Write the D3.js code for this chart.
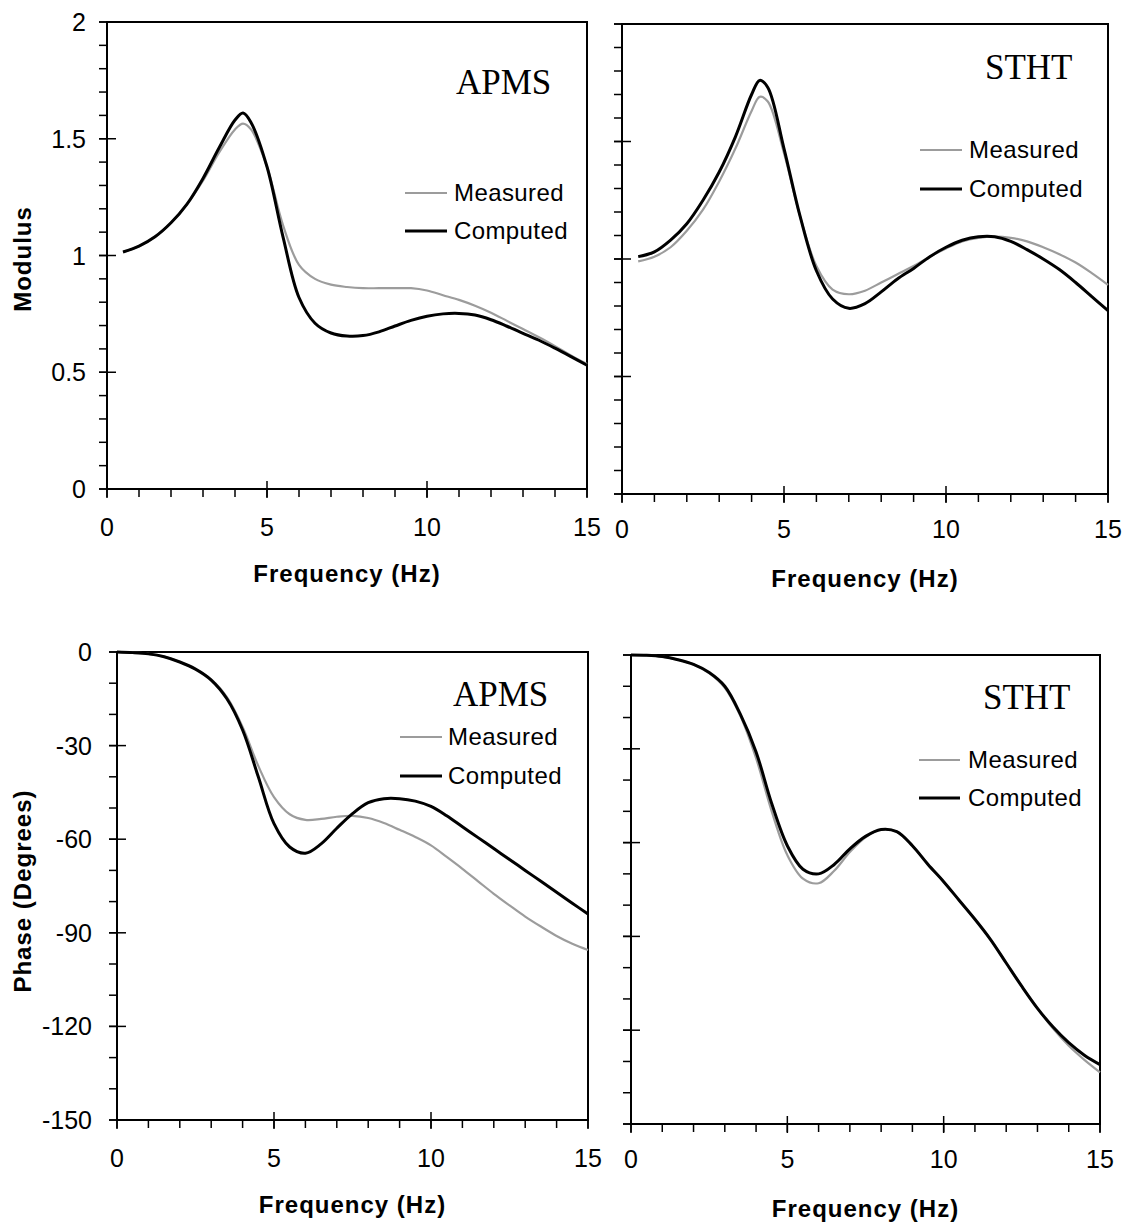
<!DOCTYPE html>
<html>
<head>
<meta charset="utf-8">
<script src="https://cdn.jsdelivr.net/npm/d3@7/dist/d3.min.js"></script>
<style>
  html, body { margin: 0; padding: 0; background: #fff; }
  svg { display: block; }
</style>
</head>
<body>
<svg id="chart" width="1130" height="1226"></svg>
<script>
// ---- Modulus data (frequency in Hz) ----
const modFreq = [0.5, 1, 1.5, 2, 2.5, 3, 3.5, 4, 4.25, 4.5, 5, 5.5, 6, 6.5, 7, 7.5, 8, 8.5, 9, 9.5, 10, 10.5, 11, 11.5, 12, 12.5, 13, 13.5, 14, 14.5, 15];

const apmsModMeasured = [1.015, 1.04, 1.08, 1.14, 1.22, 1.32, 1.44, 1.54, 1.565, 1.54, 1.38, 1.13, 0.96, 0.9, 0.875, 0.865, 0.86, 0.86, 0.86, 0.86, 0.85, 0.83, 0.81, 0.785, 0.755, 0.72, 0.685, 0.65, 0.612, 0.572, 0.535];
const apmsModComputed = [1.015, 1.04, 1.08, 1.14, 1.22, 1.33, 1.46, 1.58, 1.61, 1.57, 1.38, 1.08, 0.82, 0.71, 0.668, 0.655, 0.657, 0.673, 0.698, 0.722, 0.74, 0.75, 0.752, 0.745, 0.725, 0.697, 0.667, 0.637, 0.603, 0.567, 0.53];

const sthtModMeasured = [0.99, 1.01, 1.05, 1.12, 1.21, 1.33, 1.47, 1.63, 1.69, 1.67, 1.45, 1.18, 0.97, 0.87, 0.85, 0.865, 0.9, 0.935, 0.97, 1.01, 1.045, 1.075, 1.09, 1.095, 1.09, 1.075, 1.05, 1.02, 0.985, 0.94, 0.89];
const sthtModComputed = [1.01, 1.03, 1.08, 1.15, 1.25, 1.37, 1.52, 1.7, 1.76, 1.73, 1.47, 1.18, 0.95, 0.83, 0.79, 0.81, 0.86, 0.915, 0.96, 1.01, 1.05, 1.08, 1.095, 1.095, 1.075, 1.04, 1.0, 0.955, 0.9, 0.84, 0.78];

// ---- Phase data (degrees) ----
const phaseFreq = [0, 0.5, 1, 1.5, 2, 2.5, 3, 3.5, 4, 4.5, 5, 5.5, 6, 6.5, 7, 7.5, 8, 8.5, 9, 9.5, 10, 10.5, 11, 11.5, 12, 12.5, 13, 13.5, 14, 14.5, 15];

const apmsPhaseMeasured = [0, -0.2, -0.6, -1.5, -3.2, -5.5, -8.8, -14.5, -24, -36.5, -46.5, -52, -53.8, -53.5, -52.8, -52.5, -53.2, -54.8, -57, -59.3, -62, -65.7, -69.5, -73.5, -77.5, -81.2, -84.8, -88, -91, -93.5, -95.5];
const apmsPhaseComputed = [0, -0.2, -0.6, -1.5, -3.2, -5.5, -9, -15, -25, -40, -55, -62.5, -64.5, -61.5, -56.5, -51.8, -48.3, -47, -47, -47.8, -49.5, -52.5, -56, -59.5, -63, -66.5, -70, -73.5, -77, -80.5, -84];

const sthtPhaseMeasured = [0, -0.1, -0.5, -1.5, -3, -5.8, -10.5, -19.5, -33, -50, -64, -71.5, -73, -69, -63, -58.3, -55.8, -56.5, -61, -67, -72.5, -78.5, -84.5, -91, -98.5, -106, -113, -119.5, -125, -129.5, -133.5];
const sthtPhaseComputed = [0, -0.1, -0.5, -1.5, -3, -5.6, -10, -19, -31, -47.5, -61, -68.5, -70, -67, -62, -58, -55.8, -56.5, -61, -67, -72.5, -78.5, -84.5, -91, -98.5, -106, -113, -119, -124, -128, -131];

// ---- Axis ticks ----
const freqMajor = [0, 5, 10, 15];
const freqMinor = d3.range(0, 16, 1);
const modMajor = [0, 0.5, 1, 1.5, 2];
const modMinor = d3.range(0, 2.0001, 0.1);
const phaseMajor = [0, -30, -60, -90, -120, -150];
const phaseMinor = d3.range(-150, 0.0001, 10);

const seriesNames = ["Measured", "Computed"];

const svg = d3.select("#chart");

const panels = [
  { box: [107, 587, 22, 489], yDom: [0, 2], major: modMajor, minor: modMinor, ylabels: true, ytitle: "Modulus",
    ytitleY: 259, xFreq: modFreq, meas: apmsModMeasured, comp: apmsModComputed, name: "APMS",
    nameXY: [456, 94], leg: { x1: 405, x2: 447, tx: 454, y: [193, 231] }, labelRight: 86, xtitleY: 582, xlabY: 536 },
  { box: [622, 1108, 24, 494], yDom: [0, 2], major: modMajor, minor: modMinor, ylabels: false,
    xFreq: modFreq, meas: sthtModMeasured, comp: sthtModComputed, name: "STHT",
    nameXY: [985, 79], leg: { x1: 920, x2: 962, tx: 969, y: [150, 189] }, xtitleY: 587, xlabY: 538 },
  { box: [117, 588, 652, 1120], yDom: [-150, 0], major: phaseMajor, minor: phaseMinor, ylabels: true, ytitle: "Phase (Degrees)",
    ytitleY: 891, xFreq: phaseFreq, meas: apmsPhaseMeasured, comp: apmsPhaseComputed, name: "APMS",
    nameXY: [453, 706], leg: { x1: 400, x2: 442, tx: 448, y: [737, 776] }, labelRight: 92, xtitleY: 1213, xlabY: 1167 },
  { box: [631, 1100, 655, 1124], yDom: [-150, 0], major: phaseMajor, minor: phaseMinor, ylabels: false,
    xFreq: phaseFreq, meas: sthtPhaseMeasured, comp: sthtPhaseComputed, name: "STHT",
    nameXY: [983, 709], leg: { x1: 919, x2: 960, tx: 968, y: [760, 798] }, xtitleY: 1217, xlabY: 1168 }
];

const sansFont = "'Liberation Sans', Arial, sans-serif";
const serifFont = "'Liberation Serif', 'Times New Roman', serif";
const measColor = "#9c9c9c";
const compColor = "#000";

panels.forEach(p => {
  const [x0, x1, y0, y1] = p.box;
  const x = d3.scaleLinear().domain([0, 15]).range([x0, x1]);
  const y = d3.scaleLinear().domain(p.yDom).range([y1, y0]);
  const g = svg.append("g");

  // frame
  g.append("rect").attr("x", x0).attr("y", y0).attr("width", x1 - x0).attr("height", y1 - y0)
    .attr("fill", "none").attr("stroke", "#000").attr("stroke-width", 2);

  // y minor ticks (outside) and major ticks (crossing)
  g.selectAll(".ymin").data(p.minor).join("line")
    .attr("x1", x0 - 8).attr("x2", x0).attr("y1", d => y(d)).attr("y2", d => y(d))
    .attr("stroke", "#000").attr("stroke-width", 1.5);
  g.selectAll(".ymaj").data(p.major).join("line")
    .attr("x1", x0 - 8).attr("x2", x0 + 9).attr("y1", d => y(d)).attr("y2", d => y(d))
    .attr("stroke", "#000").attr("stroke-width", 1.5);

  // x minor and major ticks
  g.selectAll(".xmin").data(freqMinor).join("line")
    .attr("x1", d => x(d)).attr("x2", d => x(d)).attr("y1", y1).attr("y2", y1 + 8)
    .attr("stroke", "#000").attr("stroke-width", 1.5);
  g.selectAll(".xmaj").data(freqMajor).join("line")
    .attr("x1", d => x(d)).attr("x2", d => x(d)).attr("y1", y1 - 8).attr("y2", y1 + 9)
    .attr("stroke", "#000").attr("stroke-width", 1.5);

  // x tick labels
  g.selectAll(".xlab").data(freqMajor).join("text")
    .attr("x", d => x(d)).attr("y", p.xlabY)
    .attr("text-anchor", "middle").attr("font-family", sansFont).attr("font-size", 25)
    .text(d => d);

  // x title
  g.append("text").attr("x", (x0 + x1) / 2).attr("y", p.xtitleY)
    .attr("text-anchor", "middle").attr("font-family", sansFont).attr("font-size", 24)
    .attr("font-weight", "bold").attr("letter-spacing", 1).text("Frequency (Hz)");

  if (p.ylabels) {
    g.selectAll(".ylab").data(p.major).join("text")
      .attr("x", p.labelRight).attr("y", d => y(d) + 9)
      .attr("text-anchor", "end").attr("font-family", sansFont).attr("font-size", 25)
      .text(d => d);
    g.append("text")
      .attr("transform", `translate(31,${p.ytitleY}) rotate(-90)`)
      .attr("text-anchor", "middle").attr("font-family", sansFont).attr("font-size", 24)
      .attr("font-weight", "bold").attr("letter-spacing", 1).text(p.ytitle);
  }

  // series
  const line = (vals) => d3.line()
    .x((d, i) => x(p.xFreq[i]))
    .y(d => y(d))
    .curve(d3.curveCatmullRom.alpha(0.5))(vals);

  g.append("path").attr("d", line(p.meas)).attr("fill", "none")
    .attr("stroke", measColor).attr("stroke-width", 2.2).attr("stroke-linejoin", "round");
  g.append("path").attr("d", line(p.comp)).attr("fill", "none")
    .attr("stroke", compColor).attr("stroke-width", 3).attr("stroke-linejoin", "round");

  // subject name
  g.append("text").attr("x", p.nameXY[0]).attr("y", p.nameXY[1])
    .attr("font-family", serifFont).attr("font-size", 35).text(p.name);

  // legend
  const colors = [measColor, compColor];
  const widths = [2.2, 3];
  seriesNames.forEach((s, i) => {
    g.append("line").attr("x1", p.leg.x1).attr("x2", p.leg.x2)
      .attr("y1", p.leg.y[i]).attr("y2", p.leg.y[i])
      .attr("stroke", colors[i]).attr("stroke-width", widths[i]);
    g.append("text").attr("x", p.leg.tx).attr("y", p.leg.y[i] + 8)
      .attr("font-family", sansFont).attr("font-size", 24).attr("letter-spacing", 0.4)
      .text(s);
  });
});
</script>
</body>
</html>
